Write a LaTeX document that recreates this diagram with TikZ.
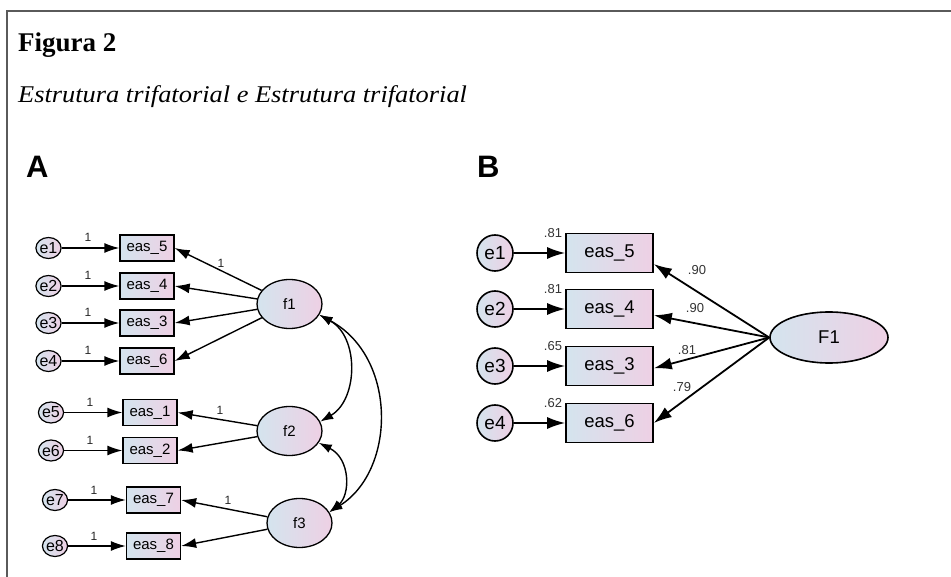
\documentclass[tikz,border=0pt]{standalone}
\usepackage{fontspec}
\newfontfamily\arialf{Liberation Sans}
\newfontfamily\serifb{Liberation Serif}
\newfontfamily\serifi[FakeStretch=1.1]{Liberation Serif}
\usetikzlibrary{arrows.meta,shapes.geometric}
\newcommand\fsz[1]{\fontsize{#1pt}{#1pt}\selectfont}
\definecolor{cL}{RGB}{212,228,238}
\definecolor{cR}{RGB}{238,208,228}
\definecolor{framec}{RGB}{90,90,90}
\tikzset{
  shadeA/.style={left color=cL, right color=cR},
  errA/.style={ellipse, draw, line width=1.2pt, shadeA, minimum width=25pt, minimum height=21pt, inner sep=0pt, font=\arialf\fsz{16}},
  obsA/.style={rectangle, draw, line width=1.3pt, shadeA, minimum width=54pt, minimum height=26pt, inner sep=0pt, font=\arialf\fsz{15}},
  latA/.style={ellipse, draw, line width=1.3pt, shadeA, minimum width=65pt, minimum height=49pt, inner sep=0pt, font=\arialf\fsz{15}},
  arA/.style={line width=1.4pt, -{Latex[length=15pt,width=10pt]}},
  covA/.style={line width=1.4pt, {Latex[length=13pt,width=9pt]}-{Latex[length=13pt,width=9pt]}},
  lblA/.style={font=\arialf\fsz{12}, inner sep=0pt, text=black!85},
  errB/.style={circle, draw, line width=1.6pt, shadeA, minimum size=36pt, inner sep=0pt, font=\arialf\fsz{19}},
  obsB/.style={rectangle, draw, line width=1.6pt, shadeA, minimum width=87pt, minimum height=39pt, inner sep=0pt, font=\arialf\fsz{18.5}},
  latB/.style={ellipse, draw, line width=1.6pt, shadeA, minimum width=118pt, minimum height=51pt, inner sep=0pt, font=\arialf\fsz{18.5}},
  arB/.style={line width=1.8pt, -{Latex[length=18pt,width=12pt]}},
  lblB/.style={font=\arialf\fsz{13}, inner sep=0pt, text=black!80},
}
\begin{document}
\begin{tikzpicture}[x=1pt,y=-1pt]
\useasboundingbox (0,0) rectangle (951,577);
% frame
\draw[framec, line width=1.6pt] (7,577) -- (7,11) -- (951,11);
% titles
\node[anchor=base west, inner sep=0pt, font=\serifb\bfseries\fsz{27}] (title) at (18,52) {Figura 2};
\node[anchor=base west, inner sep=0pt, font=\serifi\itshape\fsz{24}] (subtitle) at (18,103) {Estrutura trifatorial e Estrutura trifatorial};
\node[anchor=base west, inner sep=0pt, font=\arialf\bfseries\fsz{31}] (labA) at (26,178) {A};
\node[anchor=base west, inner sep=0pt, font=\arialf\bfseries\fsz{31}] (labB) at (477,178) {B};

% ---------------- Panel A ----------------
\node[errA] (ae1) at (48.5,248) {e1};
\node[errA] (ae2) at (48.5,286) {e2};
\node[errA] (ae3) at (48.5,323) {e3};
\node[errA] (ae4) at (48.5,361) {e4};
\node[errA] (ae5) at (51,412.5) {e5};
\node[errA] (ae6) at (51,450.5) {e6};
\node[errA] (ae7) at (55,500) {e7};
\node[errA] (ae8) at (55,546) {e8};

\node[obsA] (aeas5) at (147,248) {eas\_5};
\node[obsA] (aeas4) at (147,286) {eas\_4};
\node[obsA] (aeas3) at (147,323) {eas\_3};
\node[obsA] (aeas6) at (147,361) {eas\_6};
\node[obsA] (aeas1) at (150,412.5) {eas\_1};
\node[obsA] (aeas2) at (150,450.5) {eas\_2};
\node[obsA] (aeas7) at (153.5,500) {eas\_7};
\node[obsA] (aeas8) at (153.5,546) {eas\_8};

\node[latA] (f1) at (289.5,304) {f1};
\node[latA] (f2) at (289.5,431) {f2};
\node[latA] (f3) at (299.5,523) {f3};

\foreach \e/\b in {ae1/aeas5, ae2/aeas4, ae3/aeas3, ae4/aeas6, ae5/aeas1, ae6/aeas2, ae7/aeas7, ae8/aeas8}
  \draw[arA] (\e) -- (\b);

\node[lblA] (l1) at (88,237) {1};
\node[lblA] (l2) at (88,275) {1};
\node[lblA] (l3) at (88,312) {1};
\node[lblA] (l4) at (88,350) {1};
\node[lblA] (l5) at (90,402) {1};
\node[lblA] (l6) at (90,440) {1};
\node[lblA] (l7) at (94,490) {1};
\node[lblA] (l8) at (94,536) {1};

\draw[arA] (f1) -- (aeas5.east);
\draw[arA] (f1) -- (aeas4.east);
\draw[arA] (f1) -- (aeas3.east);
\draw[arA] (f1) -- (aeas6.east);
\draw[arA] (f2) -- (aeas1.east);
\draw[arA] (f2) -- (aeas2.east);
\draw[arA] (f3) -- (aeas7.east);
\draw[arA] (f3) -- (aeas8.east);

\node[lblA] (lf1) at (221,263) {1};
\node[lblA] (lf2) at (220,410) {1};
\node[lblA] (lf3) at (228,500) {1};

\draw[covA] (f1.-20) .. controls +(40,22) and +(38,-22) .. (f2.17);
\draw[covA] (f1.-20) .. controls +(78,42) and +(67,-42) .. (f3.20);
\draw[covA] (f2.-22) .. controls +(32,16) and +(21,-17) .. (f3.20);

% ---------------- Panel B ----------------
\node[errB] (be1) at (495,253) {e1};
\node[errB] (be2) at (495,309) {e2};
\node[errB] (be3) at (495,366) {e3};
\node[errB] (be4) at (495,423) {e4};

\node[obsB] (beas5) at (609.5,253) {eas\_5};
\node[obsB] (beas4) at (609.5,309) {eas\_4};
\node[obsB] (beas3) at (609.5,366) {eas\_3};
\node[obsB] (beas6) at (609.5,423) {eas\_6};

\node[latB] (F1) at (829,337.5) {F1};

\foreach \e/\b in {be1/beas5, be2/beas4, be3/beas3, be4/beas6}
  \draw[arB] (\e) -- (\b);

\draw[arB] (F1.west) -- (beas5.-14);
\draw[arB] (F1.west) -- (beas4.-8);
\draw[arB] (F1.west) -- (beas3.-3);
\draw[arB] (F1.west) -- (beas6.east);

\node[lblB] (v1) at (553,233) {.81};
\node[lblB] (v2) at (553,289) {.81};
\node[lblB] (v3) at (553,346) {.65};
\node[lblB] (v4) at (553,403) {.62};

\node[lblB] (w1) at (697,270) {.90};
\node[lblB] (w2) at (695,308) {.90};
\node[lblB] (w3) at (687,350) {.81};
\node[lblB] (w4) at (682,387) {.79};
\end{tikzpicture}
\end{document}
